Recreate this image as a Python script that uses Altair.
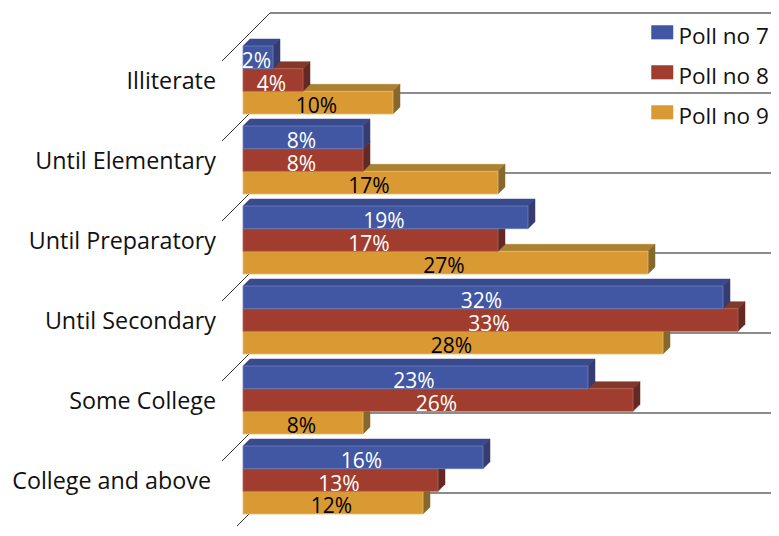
import altair as alt
import pandas as pd

categories = ["Illiterate", "Until Elementary", "Until Preparatory", "Until Secondary", "Some College", "College and above"]
polls = ["Poll no 7", "Poll no 8", "Poll no 9"]
poll7 = [2, 8, 19, 32, 23, 16]
poll8 = [4, 8, 17, 33, 26, 13]
poll9 = [10, 17, 27, 28, 8, 12]
front = ["#4157A3", "#A03D2E", "#D99A34"]
edge = ["#6F80BC", "#B8665A", "#E8BA6C"]
top_face = ["#3A4A8E", "#83382A", "#AC8131"]
side_face = ["#363C72", "#632A25", "#87682C"]
text_col = ["white", "white", "black"]
label_shift = [0, 0, 0, 0, 0, 5]

W, H = 763, 518
PX_PER_PCT, PX_PER_GROUP = 15.0, 80.0
x_dom = [-235 / PX_PER_PCT, (W - 235) / PX_PER_PCT]
y_dom = [-38 / PX_PER_GROUP, (H - 38) / PX_PER_GROUP]
DX, DY = 7 / PX_PER_PCT, 7 / PX_PER_GROUP
BAR = 22.67 / PX_PER_GROUP

xs = alt.Scale(domain=x_dom, nice=False, zero=False)
ys = alt.Scale(domain=y_dom, reverse=True, nice=False, zero=False)
X = lambda f, **k: alt.X(f, type="quantitative", scale=xs, axis=None, **k)
Y = lambda f, **k: alt.Y(f, type="quantitative", scale=ys, axis=None, **k)

series = [poll7, poll8, poll9]
bars = []
for j, vals in enumerate(series):
    for i, v in enumerate(vals):
        bars.append(dict(cat=categories[i], poll=polls[j], j=j, i=i, v=v, y0=i + j * BAR, y1=i + (j + 1) * BAR, label=f"{v}%"))
bars = pd.DataFrame(bars)

layers = []

walls_h, walls_d = [], []
for k in range(7):
    wy = k - 33 / PX_PER_GROUP
    walls_h.append(dict(k=k, x0=27 / PX_PER_PCT, x1=x_dom[1], y=wy))
    walls_d += [dict(k=k, o=0, x=-21 / PX_PER_PCT, y=wy + 48 / PX_PER_GROUP), dict(k=k, o=1, x=27 / PX_PER_PCT, y=wy)]
wh = pd.DataFrame(walls_h)
wd = pd.DataFrame(walls_d)
layers.append(alt.Chart(wd).mark_line(color="#333333", strokeWidth=1, clip=True).encode(X("x"), Y("y"), detail="k:N", order="o:Q"))
layers.append(alt.Chart(wh[wh.k > 0]).mark_rule(color="#666666", strokeWidth=1.3).encode(X("x0"), x2="x1", y=Y("y")))
layers.append(alt.Chart(wh[wh.k == 0]).mark_rule(color="#111111", strokeWidth=1.2).encode(X("x0"), x2="x1", y=Y("y")))

for j in [2, 1, 0]:
    sub = bars[bars.j == j]
    tops, sides = [], []
    for r in sub.itertuples():
        tops += [dict(i=r.i, o=0, x=0, y=r.y0), dict(i=r.i, o=1, x=DX, y=r.y0 - DY),
                 dict(i=r.i, o=2, x=r.v + DX, y=r.y0 - DY), dict(i=r.i, o=3, x=r.v, y=r.y0)]
        sides += [dict(i=r.i, o=0, x=r.v, y=r.y0), dict(i=r.i, o=1, x=r.v + DX, y=r.y0 - DY),
                  dict(i=r.i, o=2, x=r.v + DX, y=r.y1 - DY), dict(i=r.i, o=3, x=r.v, y=r.y1)]
    for pts, col in [(tops, top_face[j]), (sides, side_face[j])]:
        layers.append(alt.Chart(pd.DataFrame(pts)).mark_line(
            fill=col, stroke=col, strokeWidth=0.5, interpolate="linear-closed"
        ).encode(X("x"), Y("y"), detail="i:N", order="o:Q"))
    layers.append(alt.Chart(sub).mark_rect(stroke=edge[j], strokeWidth=0.8).encode(
        X("base"), x2="v", y=Y("y0"), y2="y1",
        color=alt.Color("poll:N", scale=alt.Scale(domain=polls, range=front),
                        legend=alt.Legend(title=None, orient="none", legendX=643, legendY=18,
                                          symbolType="M-1,-1.09H1V0.19H-1Z", symbolSize=484,
                                          symbolStrokeWidth=0, labelFont="Open Sans", labelFontSize=22.5,
                                          labelColor="#111111", labelLimit=200, rowPadding=16, labelOffset=5,
                                          padding=0)),
    ).transform_calculate(base="0"))
    txt = sub.assign(cx=sub.v / 2 - 1.5 / PX_PER_PCT, ty=sub.y0 + 22 / PX_PER_GROUP)
    layers.append(alt.Chart(txt).mark_text(font="Open Sans", fontSize=21, baseline="alphabetic", align="center",
                                           color=text_col[j]).encode(X("cx"), Y("ty"), text="label:N"))

cat_df = pd.DataFrame({"cat": categories, "i": range(6), "s": label_shift})
cat_df["x"] = (-27 - cat_df.s) / PX_PER_PCT
cat_df["y"] = cat_df.i + 43 / PX_PER_GROUP
layers.append(alt.Chart(cat_df).mark_text(font="Open Sans", fontSize=23.3, align="right", baseline="alphabetic",
                                          color="#111111").encode(X("x"), Y("y"), text="cat:N"))

chart = alt.layer(*layers).properties(
    width=W, height=H, padding=0, autosize=alt.AutoSizeParams(type="none", contains="content")
).configure_view(stroke=None)

chart.save("out.html", embed_options={"renderer": "svg", "actions": False})
